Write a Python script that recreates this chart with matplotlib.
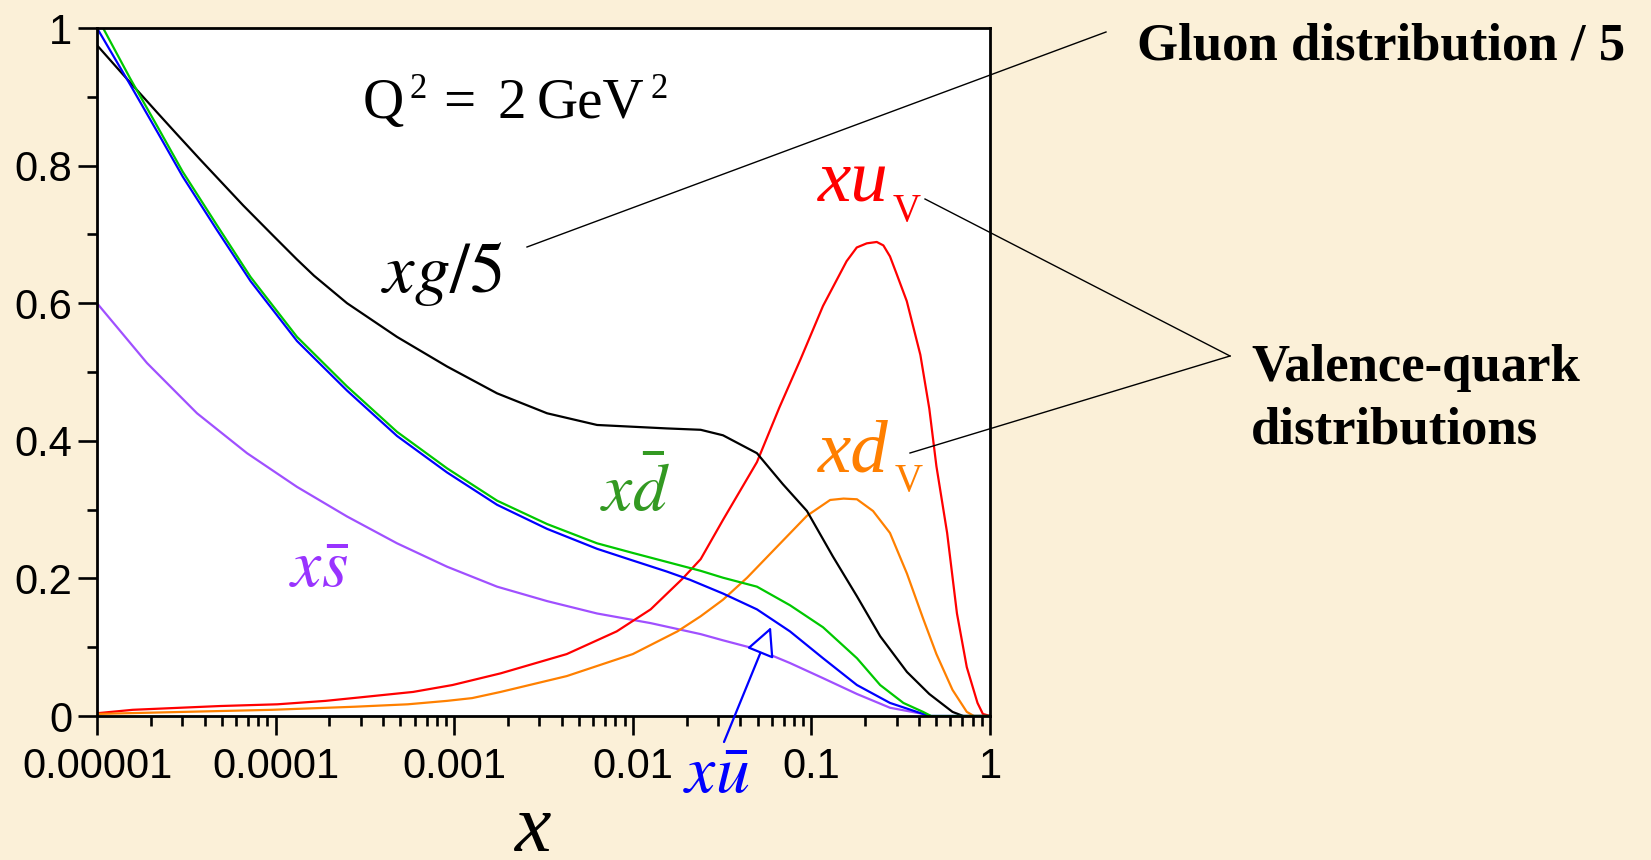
import numpy as np
import matplotlib
matplotlib.use("Agg")
import matplotlib.pyplot as plt
from matplotlib.lines import Line2D

plt.rcParams["mathtext.fontset"] = "stix"

W, H = 1651, 860
BG = "#fbf0d8"

# ---- parton distributions at Q^2 = 2 GeV^2 (log10 x, value) ----
lx_gluon = [-5.0, -4.853, -4.666, -4.554, -4.423, -4.293, -4.181, -4.013, -3.882, -3.785,
            -3.60, -3.32, -3.04, -2.76, -2.48, -2.20, -1.81, -1.62, -1.495, -1.305, -1.16,
            -1.025, -0.88, -0.745, -0.615, -0.465, -0.34, -0.21, -0.15, 0.0]
y_gluon = [0.975, 0.932, 0.878, 0.846, 0.809, 0.773, 0.742, 0.698, 0.664, 0.640,
           0.600, 0.551, 0.508, 0.469, 0.440, 0.423, 0.418, 0.416, 0.408, 0.382, 0.337,
           0.298, 0.232, 0.174, 0.116, 0.064, 0.032, 0.006, 0.0, 0.0]

lx_uv = [-5.0, -4.8, -4.31, -3.99, -3.72, -3.53, -3.23, -3.01, -2.74, -2.37, -2.09, -1.90,
         -1.72, -1.62, -1.495, -1.305, -1.18, -1.06, -0.935, -0.803, -0.746, -0.690, -0.634,
         -0.597, -0.560, -0.522, -0.466, -0.39, -0.34, -0.30, -0.24, -0.185, -0.13, -0.07,
         -0.04, 0.0]
y_uv = [0.004, 0.009, 0.0145, 0.017, 0.022, 0.027, 0.035, 0.045, 0.062, 0.090, 0.123, 0.155,
        0.200, 0.228, 0.285, 0.369, 0.448, 0.519, 0.596, 0.661, 0.681, 0.687, 0.689,
        0.684, 0.668, 0.642, 0.603, 0.525, 0.447, 0.363, 0.266, 0.149, 0.071, 0.019,
        0.003, 0.0]

lx_dv = [-5.0, -4.02, -3.555, -3.26, -3.04, -2.90, -2.74, -2.37, -2.0, -1.75, -1.62, -1.495,
         -1.36, -1.215, -1.025, -0.895, -0.82, -0.745, -0.655, -0.56, -0.465, -0.375, -0.30,
         -0.21, -0.13, -0.09, 0.0]
y_dv = [0.003, 0.009, 0.0135, 0.017, 0.022, 0.026, 0.035, 0.058, 0.090, 0.123, 0.145, 0.169,
        0.201, 0.240, 0.291, 0.314, 0.316, 0.315, 0.298, 0.266, 0.207, 0.142, 0.090,
        0.038, 0.006, 0.0, 0.0]

lx_dbar = [-5.0, -4.966, -4.815, -4.66, -4.52, -4.33, -4.14, -3.88, -3.60, -3.32, -3.04,
           -2.76, -2.48, -2.20, -2.0, -1.81, -1.62, -1.495, -1.305, -1.12, -0.935, -0.745,
           -0.615, -0.485, -0.375, -0.33, 0.0]
y_dbar = [1.01, 1.0, 0.927, 0.856, 0.791, 0.714, 0.638, 0.551, 0.479, 0.413, 0.360,
          0.313, 0.279, 0.251, 0.237, 0.224, 0.211, 0.201, 0.188, 0.161, 0.129, 0.084,
          0.045, 0.019, 0.006, 0.0, 0.0]

lx_ubar = [-5.0, -4.815, -4.66, -4.52, -4.33, -4.14, -3.88, -3.60, -3.32, -3.04, -2.76,
           -2.48, -2.20, -2.0, -1.81, -1.68, -1.495, -1.305, -1.12, -0.935, -0.745, -0.56,
           -0.375, -0.34, 0.0]
y_ubar = [1.0, 0.918, 0.848, 0.784, 0.707, 0.632, 0.545, 0.473, 0.407, 0.354, 0.307,
          0.272, 0.243, 0.226, 0.210, 0.198, 0.178, 0.155, 0.123, 0.084, 0.045, 0.019,
          0.003, 0.0, 0.0]

lx_sbar = [-5.0, -4.72, -4.44, -4.16, -3.88, -3.60, -3.32, -3.04, -2.76, -2.48, -2.20,
           -1.90, -1.62, -1.495, -1.305, -1.12, -0.935, -0.745, -0.56, -0.375, -0.33, 0.0]
y_sbar = [0.600, 0.513, 0.440, 0.382, 0.333, 0.290, 0.251, 0.217, 0.188, 0.167, 0.149,
          0.135, 0.119, 0.110, 0.097, 0.077, 0.055, 0.032, 0.012, 0.003, 0.0, 0.0]

x_ticks = [1e-5, 1e-4, 1e-3, 1e-2, 1e-1, 1]
x_ticklabels = ["0.00001", "0.0001", "0.001", "0.01", "0.1", "1"]
y_ticks = [0, 0.2, 0.4, 0.6, 0.8, 1.0]
y_ticklabels = ["0", "0.2", "0.4", "0.6", "0.8", "1"]

series = [
    (lx_sbar, y_sbar, "#a050ff"),
    (lx_uv, y_uv, "#ff0000"),
    (lx_dv, y_dv, "#ff8000"),
    (lx_gluon, y_gluon, "#000000"),
    (lx_ubar, y_ubar, "#0000ff"),
    (lx_dbar, y_dbar, "#00c800"),
]

fig = plt.figure(figsize=(W / 100, H / 100), dpi=100)
fig.patch.set_facecolor(BG)

# axes box in pixels: left 97, right 990, top 28, bottom 716
ax = fig.add_axes([97 / W, (H - 716) / H, (990 - 97) / W, (716 - 28) / H])
ax.set_facecolor("white")

for lx, yv, col in series:
    ax.plot(10 ** np.asarray(lx), yv, color=col, lw=1.6)

ax.set_xscale("log")
ax.set_xlim(1e-5, 1)
ax.set_ylim(0, 1)

ax.set_xticks(x_ticks)
ax.set_xticklabels(x_ticklabels)
ax.xaxis.set_minor_locator(matplotlib.ticker.LogLocator(base=10, subs=np.arange(2, 10)))
ax.xaxis.set_minor_formatter(matplotlib.ticker.NullFormatter())
ax.set_yticks(y_ticks)
ax.set_yticklabels(y_ticklabels)
ax.set_yticks(np.arange(0.1, 1.0, 0.2), minor=True)

for lab in ax.get_xticklabels() + ax.get_yticklabels():
    lab.set_fontfamily("Liberation Sans")
    lab.set_fontsize(30)

ax.tick_params(axis="both", which="major", direction="out", length=13.7, width=1.9,
               color="black")
ax.tick_params(axis="both", which="minor", direction="out", length=7.2, width=1.9,
               color="black")
ax.tick_params(axis="x", which="major", pad=8.5)
ax.tick_params(axis="y", which="major", pad=4.3)
ax.tick_params(top=False, right=False, which="both")
for sp in ax.spines.values():
    sp.set_linewidth(2.0)


def fp(x, y):
    """Pixel position (from top-left) to figure fraction."""
    return (x / W, 1 - y / H)


def ftext(x, y, s, **kw):
    fx, fy = fp(x, y)
    kw.setdefault("ha", "left")
    kw.setdefault("va", "baseline")
    fig.text(fx, fy, s, **kw)


def fline(x1, y1, x2, y2):
    a = fp(x1, y1)
    b = fp(x2, y2)
    fig.add_artist(Line2D([a[0], b[0]], [a[1], b[1]], transform=fig.transFigure,
                          color="black", lw=1.0))


serif = "Liberation Serif"

# Q^2 = 2 GeV^2
ftext(363, 118, "Q", family=serif, size=41)
ftext(409, 98, "2", family=serif, size=25)
ftext(443, 118, "=", family=serif, size=41)
ftext(497, 118, "2", family=serif, size=41)
ftext(537, 118, "GeV", family=serif, size=41)
ftext(651, 98, "2", family=serif, size=25)

# curve labels
ftext(381, 292, r"$xg/5$", size=51, color="black")
ftext(818, 202, "xu", family=serif, style="italic", size=54, color="#ff0000")
ftext(893, 221, "V", family=serif, size=28, color="#ff0000")
ftext(818, 472, "xd", family=serif, style="italic", size=54, color="#ff7f00")
ftext(895, 491, "V", family=serif, size=28, color="#ff7f00")
ftext(600, 511, r"$x\bar{d}$", size=49, color="#339922")
ftext(289, 587, r"$x\bar{s}$", size=49, color="#9933ff")
ftext(683, 793, r"$x\bar{u}$", size=49, color="#0000ff")

# axis title
ftext(515, 851, "x", family=serif, style="italic", size=59, color="black")

# side captions
ftext(1137, 59, "Gluon distribution / 5", family=serif, weight="bold", size=38)
ftext(1251, 381, "Valence-quark", family=serif, weight="bold", size=38)
ftext(1251, 443, "distributions", family=serif, weight="bold", size=38)

# leader lines
fline(527, 247, 1106, 32)
fline(925, 199, 1230, 356)
fline(910, 453, 1230, 356)

# arrow pointing at the anti-up curve
ax.annotate("", xy=fp(771, 627), xycoords="figure fraction",
            xytext=fp(724, 742), textcoords="figure fraction",
            arrowprops=dict(arrowstyle="-|>,head_length=0.9,head_width=0.45",
                            mutation_scale=20, fc="white", ec="#0000ff", lw=1.6,
                            shrinkA=0, shrinkB=0),
            annotation_clip=False)

fig.savefig("out.png", dpi=100, facecolor=BG)
